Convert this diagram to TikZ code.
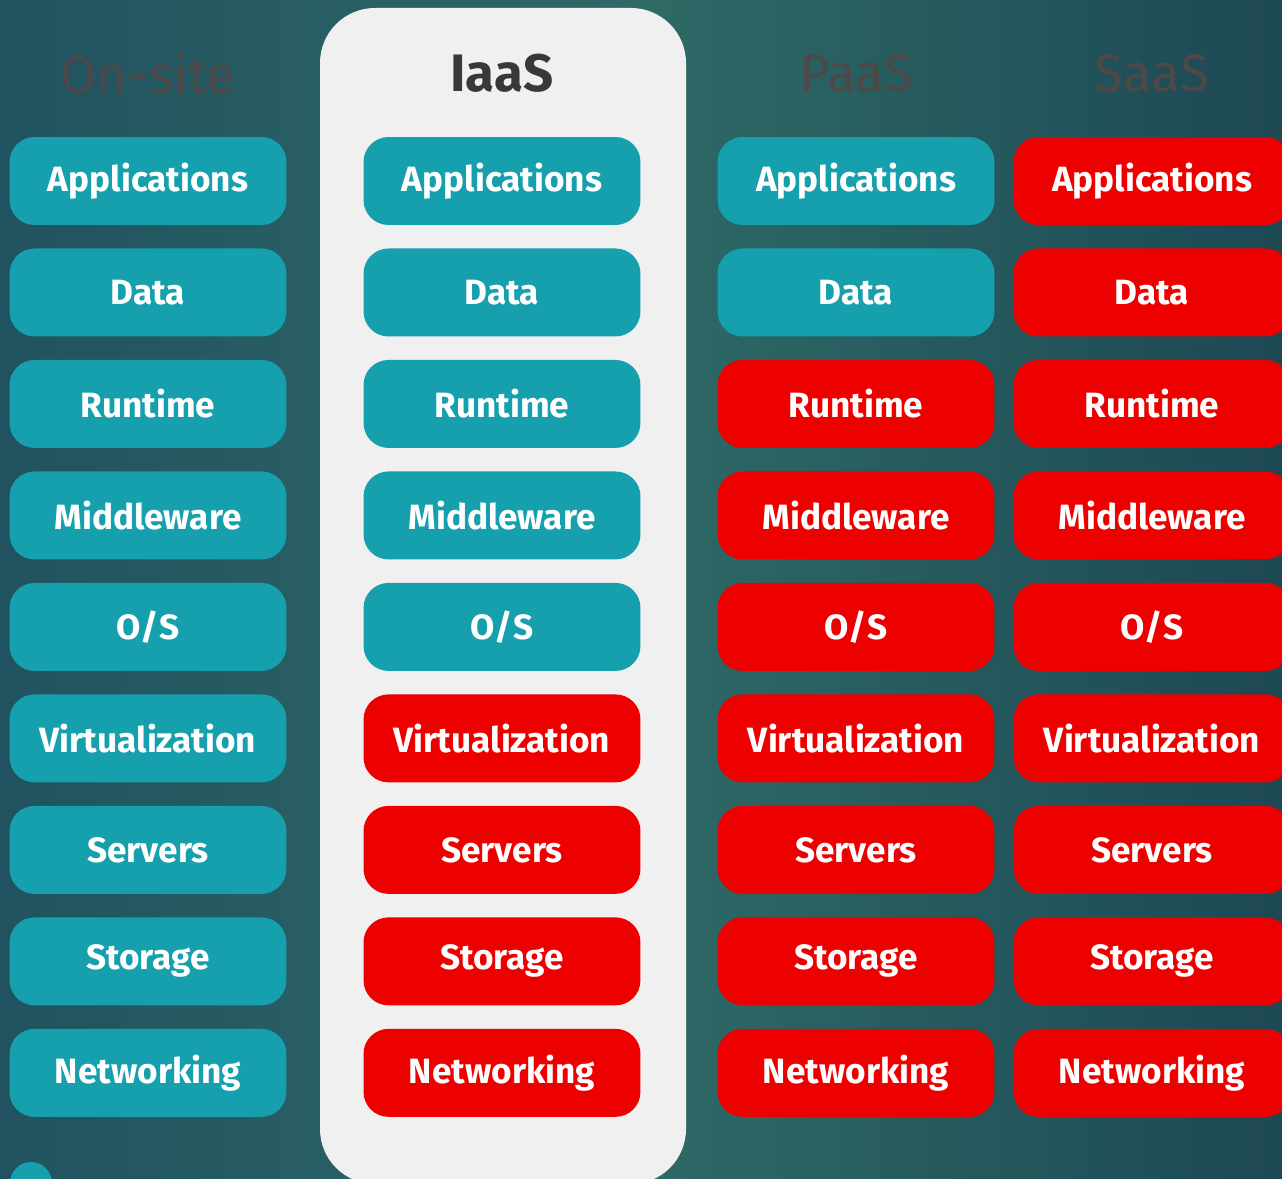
\documentclass[tikz,border=0pt]{standalone}
\usepackage{fontspec}
\setmainfont{Fira Sans}
\usepackage{tikz}
\usetikzlibrary{positioning}
\definecolor{bgleft}{HTML}{215260}
\definecolor{bgmid}{HTML}{2E6A66}
\definecolor{bgright}{HTML}{1D4854}
\definecolor{tealbox}{HTML}{169FAD}
\definecolor{redbox}{HTML}{EC0000}
\definecolor{panelwhite}{HTML}{F0F0F0}
\definecolor{headgray}{HTML}{4F4848}
\tikzstyle{layer} = [rectangle, rounded corners=0.5cm, inner sep=0pt,
    minimum width=5.54cm, minimum height=1.76cm, text=white,
    font=\fontsize{20}{24}\selectfont\bfseries]
\tikzstyle{own} = [layer, fill=tealbox]
\tikzstyle{vendor} = [layer, fill=redbox]
\tikzstyle{head} = [text=headgray, font=\fontsize{30}{36}\selectfont]
\begin{document}
\begin{tikzpicture}[x=0.02cm, y=-0.02cm, node distance=0.456cm]
    % Background and IaaS panel
\useasboundingbox (0,0) rectangle (1282,1179);
\clip (0,0) rectangle (1282,1179);
\shade[left color=bgleft, right color=bgright, middle color=bgmid] (0,0) rectangle (1282,1179);
\fill[panelwhite, rounded corners=1.1cm] (320,8) rectangle (686,1184);

    % Column headings
\node[head] (onsite) at (148,73) {On-site};
\node[head, text=black!78, font=\fontsize{30}{36}\selectfont\bfseries] (iaas) at (502,73) {IaaS};
\node[head] (paas) at (856,73) {PaaS};
\node[head] (saas) at (1152,73) {SaaS};

    % Place layers
\node[own] (on1) at (148,181) {Applications};
\node[own] (ia1) at (502,181) {Applications};
\node[own] (pa1) at (856,181) {Applications};
\node[vendor] (sa1) at (1152,181) {Applications};
\foreach \name/\ia/\pa [count=\i from 2] in {Data/own/own, Runtime/own/vendor,
    Middleware/own/vendor, {O/S}/own/vendor, Virtualization/vendor/vendor,
    Servers/vendor/vendor, Storage/vendor/vendor, Networking/vendor/vendor}
{
  \pgfmathtruncatemacro\j{\i-1}
  \node[own, below=of on\j] (on\i) {\name};
  \node[\ia, below=of ia\j] (ia\i) {\name};
  \node[\pa, below=of pa\j] (pa\i) {\name};
  \node[vendor, below=of sa\j] (sa\i) {\name};
}

    % Legend dot
\node[circle, fill=tealbox, minimum size=0.84cm, inner sep=0pt] (key) at (31,1183) {};
\end{tikzpicture}
\end{document}
